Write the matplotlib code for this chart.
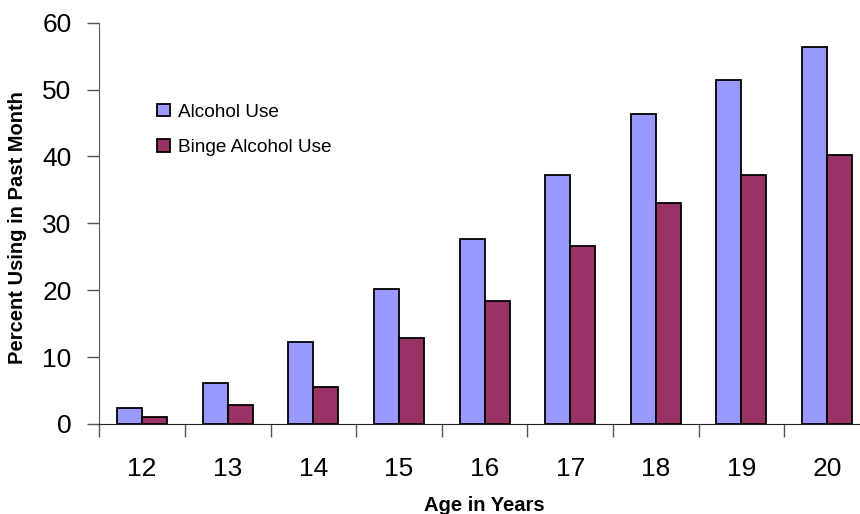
import matplotlib.pyplot as plt
import numpy as np

plt.rcParams['font.family'] = ['Liberation Sans', 'DejaVu Sans']

ages = ['12', '13', '14', '15', '16', '17', '18', '19', '20']
alcohol_use = [2.4, 6.1, 12.3, 20.2, 27.7, 37.3, 46.4, 51.5, 56.3]
binge_use = [1.0, 2.9, 5.5, 12.8, 18.4, 26.6, 33.1, 37.3, 40.2]

fig = plt.figure(figsize=(8.6, 5.14), dpi=100)
# axes run a little past the right edge, so the last group sits at the border
ax = fig.add_axes([0.1155, 0.1751, 0.896, 0.7807])

x = np.arange(len(ages))
w = 0.292
ax.bar(x - w / 2, alcohol_use, w, color='#9999FF', edgecolor='black',
       linewidth=1.3, label='Alcohol Use')
ax.bar(x + w / 2, binge_use, w, color='#993366', edgecolor='black',
       linewidth=1.3, label='Binge Alcohol Use')

ax.set_xlim(-0.5, len(ages) - 0.5)
ax.set_ylim(0, 60)
ax.set_yticks(range(0, 61, 10))
ax.set_xticks(x)
ax.set_xticklabels(ages)
ax.set_xticks(np.arange(-0.5, len(ages), 1.0), minor=True)

for s in ['top', 'right']:
    ax.spines[s].set_visible(False)
ax.spines['left'].set_color('#555555')
ax.spines['bottom'].set_color('#222222')

ax.tick_params(axis='y', length=9, width=1, color='#555555', pad=11, labelsize=19)
ax.tick_params(axis='x', which='major', length=0, pad=24, labelsize=19)
ax.tick_params(axis='x', which='minor', length=9, width=1, color='#555555')

fig.text(0.0209, 0.557, 'Percent Using in Past Month', rotation=90,
         ha='center', va='center', fontsize=14.5, fontweight='bold')
fig.text(0.563, 0.006, 'Age in Years', ha='center', va='baseline',
         fontsize=14.5, fontweight='bold')

ax.legend(loc='upper left', bbox_to_anchor=(0.172, 0.817),
          bbox_transform=fig.transFigure, frameon=False, fontsize=13.7,
          handlelength=0.66, handleheight=0.66, handletextpad=0.42,
          labelspacing=0.95, borderpad=0)

fig.savefig('out.png', dpi=100)
